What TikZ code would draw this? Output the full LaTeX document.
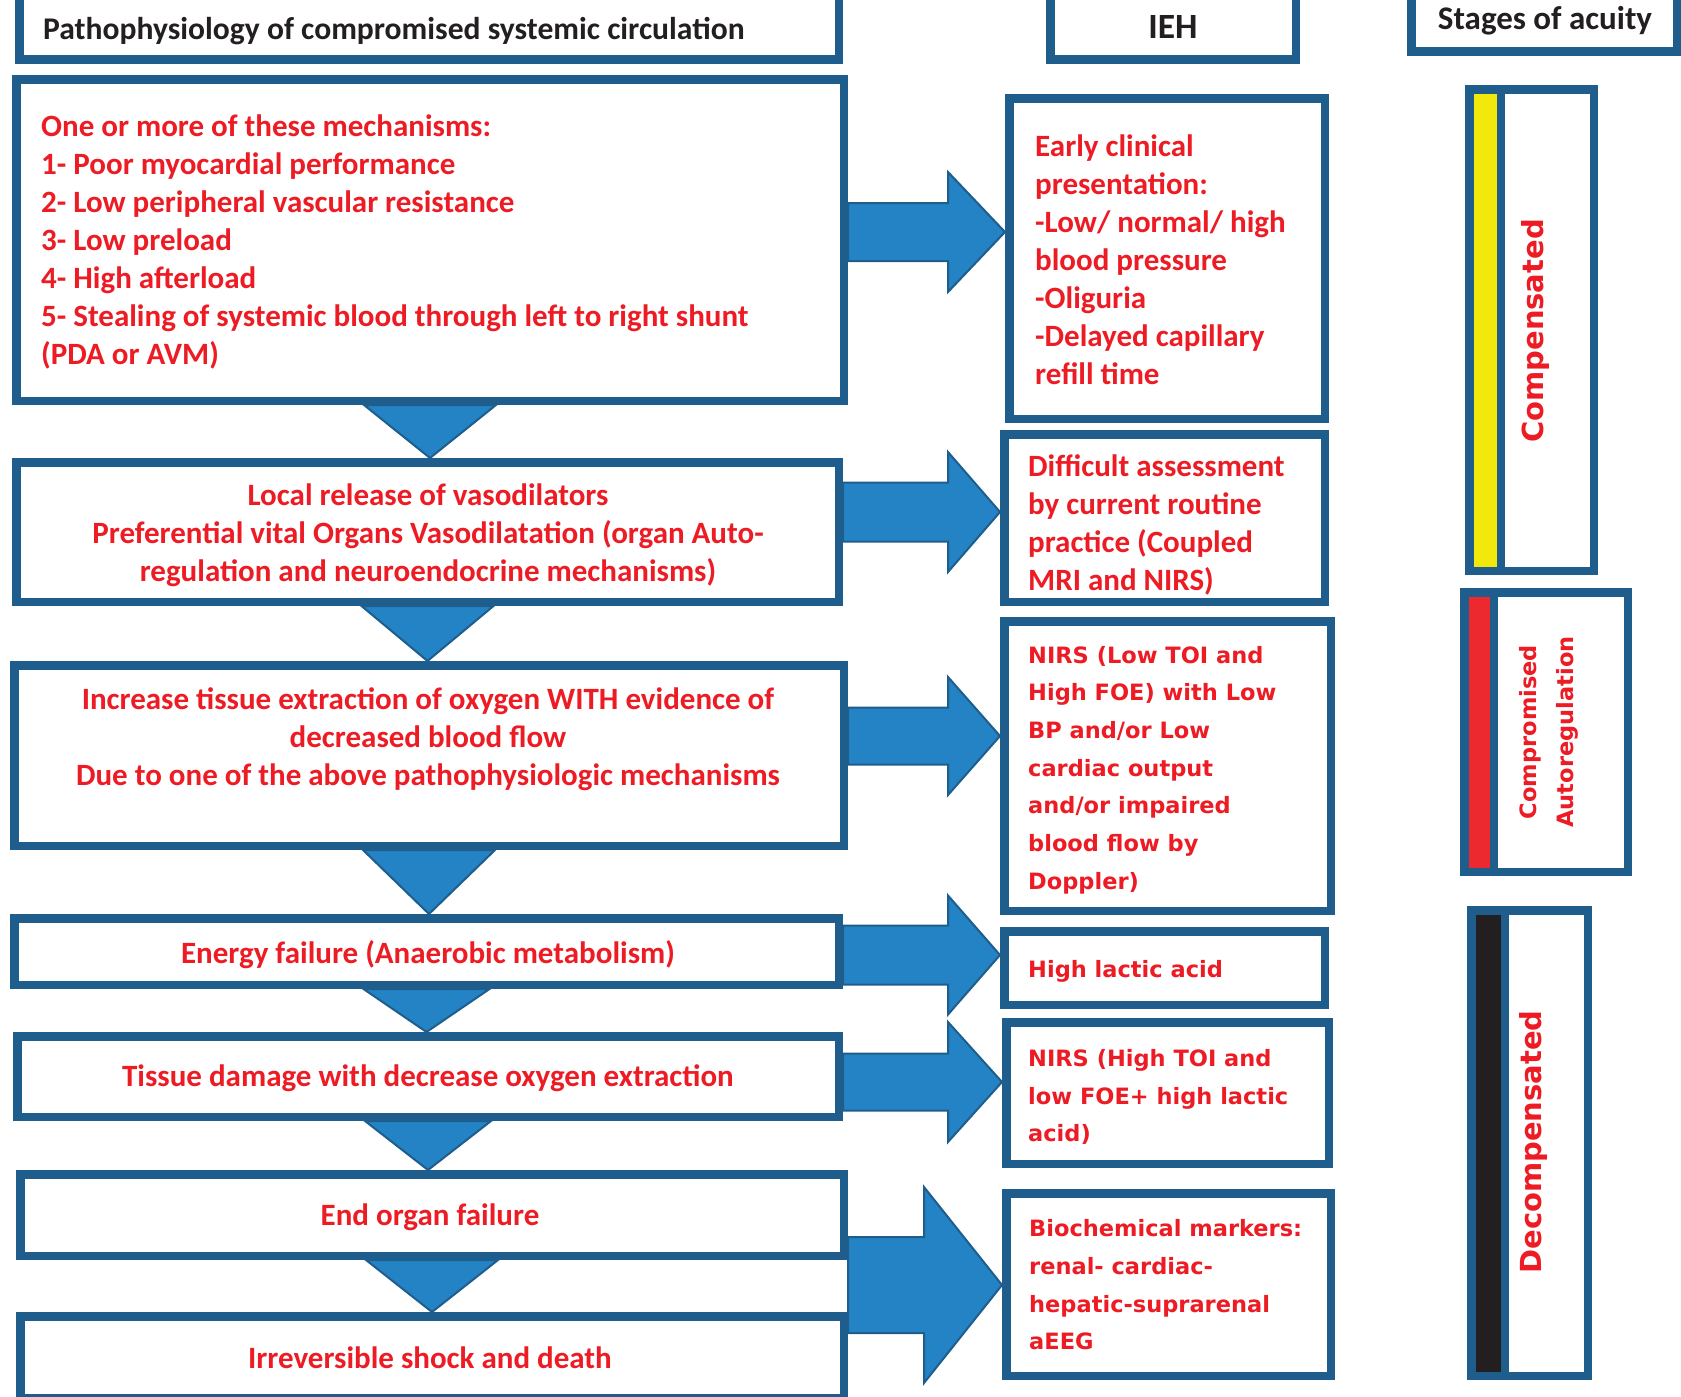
\documentclass[tikz,border=0pt]{standalone}
\usepackage{fontspec}
\newfontfamily\calfont{Carlito}
\newfontfamily\verfont{DejaVu Sans}
\usetikzlibrary{calc}
\definecolor{bblue}{RGB}{30,93,140}
\definecolor{afill}{RGB}{35,131,196}
\definecolor{tred}{RGB}{237,28,36}
\definecolor{ybar}{RGB}{242,233,12}
\definecolor{rbar}{RGB}{237,41,48}
\definecolor{kbar}{RGB}{35,31,32}
\tikzset{
  box/.style={draw=bblue, line width=8.5pt, fill=white, inner sep=0pt},
  blockarrow/.style={fill=afill, draw=bblue, line width=2pt, line join=miter},
  lfont/.style={font=\calfont\bfseries\fontsize{31}{38}\selectfont, text=tred, inner sep=0pt},
  vfont/.style={font=\verfont\bfseries\fontsize{22.5}{37.7}\selectfont, text=tred, inner sep=0pt},
  hfont/.style={font=\calfont\bfseries\fontsize{31.6}{38}\selectfont, text=kbar, inner sep=0pt},
  stagefont/.style={font=\verfont\bfseries\fontsize{29}{35}\selectfont, text=tred, inner sep=0pt, rotate=90},
}
% \boxat[options]{name}{x1}{y1}{x2}{y2}  (outer edges, pixel coordinates)
\newcommand\boxat[6][]{\node[box,#1,minimum width={#5-#3-8.5pt},minimum height={#6-#4-8.5pt}] (#2) at ({(#3+#5)/2},{(#4+#6)/2}) {};}
% \rblock{src}{dst}{tip coordinate}{shaft half}{head half}{head length}
\newcommand\rblock[6]{\path[blockarrow] let \p1=(#1.east |- #3), \p2=(#2.west |- #3) in
  (\x1,{\y1+#4}) -- ({\x2-#6},{\y1+#4}) -- ({\x2-#6},{\y1+#5}) -- (\x2,\y1) --
  ({\x2-#6},{\y1-#5}) -- ({\x2-#6},{\y1-#4}) -- (\x1,{\y1-#4}) -- cycle;}
% \dtri{upper}{lower}{half width}
\newcommand\dtri[3]{\path[blockarrow] let \p1=(#1.south), \p2=(#2.north) in
  ({\x1-#3},\y1) -- ({\x1+#3},\y1) -- (\x1,\y2) -- cycle;}
\begin{document}
\begin{tikzpicture}[x=1pt,y=-1pt]
\useasboundingbox[fill=white] (0,0) rectangle (1681,1397);
% headers
\boxat{hleft}{15}{-8}{843}{64}
\boxat{hieh}{1046}{-8}{1300}{64}
\boxat{hstage}{1407}{-14}{1681}{56}
% left column
\boxat{b1}{12}{75}{848}{405}
\boxat{b2}{12}{458}{843}{606}
\boxat{b3}{10}{661}{848}{850}
\boxat{b4}{10}{914}{843}{989}
\boxat{b5}{13}{1032}{843}{1121}
\boxat{b6}{16}{1170}{848}{1260}
\boxat{b7}{16}{1312}{848}{1402}
% right column
\boxat{r1}{1005}{94}{1329}{423}
\boxat{r2}{1000}{430}{1329}{606}
\boxat{r3}{1000}{617}{1335}{915}
\boxat{r4}{1000}{927}{1329}{1009}
\boxat{r5}{1002}{1018}{1333}{1168}
\boxat{r6}{1002}{1189}{1335}{1380}
% stages
\boxat{s1}{1465}{85}{1598}{575}
\boxat[fill=ybar]{s1bar}{1465}{85}{1505}{575}
\boxat{s2}{1460}{588}{1632}{876}
\boxat[fill=rbar]{s2bar}{1460}{588}{1498}{876}
\boxat{s3}{1467}{906}{1592}{1380}
\boxat[fill=kbar]{s3bar}{1467}{906}{1509}{1380}
% down triangles
\dtri{b1}{b2}{66pt}
\dtri{b2}{b3}{66pt}
\dtri{b3}{b4}{66pt}
\dtri{b4}{b5}{63pt}
\dtri{b5}{b6}{63pt}
\dtri{b6}{b7}{66pt}
% right block arrows
\coordinate (t1) at (0,232);
\coordinate (t2) at (0,512);
\coordinate (t3) at (0,736);
\coordinate (t4) at (0,955);
\coordinate (t5) at (0,1082);
\coordinate (t6) at (0,1285);
\rblock{b1}{r1}{t1}{29pt}{60pt}{57pt}
\rblock{b2}{r2}{t2}{29.5pt}{60pt}{52pt}
\rblock{b3}{r3}{t3}{28.5pt}{59pt}{52pt}
\rblock{b4}{r4}{t4}{29.5pt}{59.5pt}{52pt}
\rblock{b5}{r5}{t5}{28.5pt}{60pt}{54pt}
\rblock{b6}{r6}{t6}{48pt}{98pt}{78pt}
% header texts
\node[hfont, anchor=west] (thl) at (43,31) {Pathophysiology of compromised systemic circulation};
\node[hfont, font=\calfont\bfseries\fontsize{35.5}{40}\selectfont] (tieh) at (1173,27) {IEH};
\node[hfont, font=\calfont\bfseries\fontsize{33}{38}\selectfont] (tstage) at (1545,21) {Stages of acuity};
% left texts
\node[lfont, anchor=west, align=left] (tb1) at (41,242) {One or more of these mechanisms:\\1- Poor myocardial performance\\2- Low peripheral vascular resistance\\3- Low preload\\4- High afterload\\5- Stealing of systemic blood through left to right shunt\\(PDA or AVM)};
\node[lfont, align=center] (tb2) at (428,535.5) {Local release of vasodilators\\Preferential vital Organs Vasodilatation (organ Auto-\\regulation and neuroendocrine mechanisms)};
\node[lfont, align=center] (tb3) at (428,739.5) {Increase tissue extraction of oxygen WITH evidence of\\decreased blood flow\\Due to one of the above pathophysiologic mechanisms};
\node[lfont] (tb4) at (428,954.5) {Energy failure (Anaerobic metabolism)};
\node[lfont] (tb5) at (428,1078.5) {Tissue damage with decrease oxygen extraction};
\node[lfont] (tb6) at (430,1217) {End organ failure};
\node[lfont] (tb7) at (430,1358) {Irreversible shock and death};
% right texts
\node[lfont, anchor=west, align=left] (tr1) at (1035,260) {Early clinical\\presentation:\\-Low/ normal/ high\\blood pressure\\-Oliguria\\-Delayed capillary\\refill time};
\node[lfont, anchor=west, align=left] (tr2) at (1028,525) {Difficult assessment\\by current routine\\practice (Coupled\\MRI and NIRS)};
\node[vfont, anchor=west, align=left] (tr3) at (1028,770) {NIRS (Low TOI and\\High FOE) with Low\\BP and/or Low\\cardiac output\\and/or impaired\\blood flow by\\Doppler)};
\node[vfont, anchor=west] (tr4) at (1028,971) {High lactic acid};
\node[vfont, anchor=west, align=left] (tr5) at (1028,1097) {NIRS (High TOI and\\low FOE+ high lactic\\acid)};
\node[vfont, anchor=west, align=left] (tr6) at (1029,1285) {Biochemical markers:\\renal- cardiac-\\hepatic-suprarenal\\aEEG};
% stage texts
\node[stagefont] (ts1) at (1535,331) {Compensated};
\node[stagefont, font=\verfont\bfseries\fontsize{22.5}{37}\selectfont, align=center] (ts2) at (1549,732) {Compromised\\Autoregulation};
\node[stagefont] (ts3) at (1533,1142) {Decompensated};
\end{tikzpicture}
\end{document}
